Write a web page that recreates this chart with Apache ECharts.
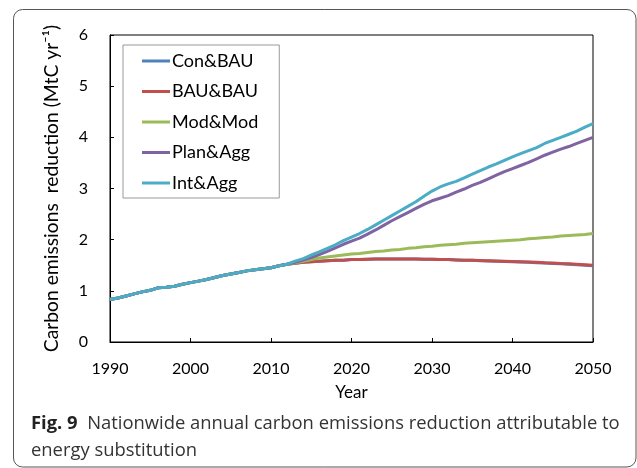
<!DOCTYPE html>
<html>
<head>
<meta charset="utf-8">
<script src="https://cdn.jsdelivr.net/npm/echarts@6/dist/echarts.min.js"></script>
<style>
  html, body { margin: 0; padding: 0; background: #fff; }
  #main { width: 637px; height: 468px; }
</style>
</head>
<body>
<div id="main"></div>
<script>
// years on the x axis
const years = [
  1990, 1991, 1992, 1993, 1994, 1995, 1996, 1997, 1998, 1999,
  2000, 2001, 2002, 2003, 2004, 2005, 2006, 2007, 2008, 2009,
  2010, 2011, 2012, 2013, 2014, 2015, 2016, 2017, 2018, 2019,
  2020, 2021, 2022, 2023, 2024, 2025, 2026, 2027, 2028, 2029,
  2030, 2031, 2032, 2033, 2034, 2035, 2036, 2037, 2038, 2039,
  2040, 2041, 2042, 2043, 2044, 2045, 2046, 2047, 2048, 2049, 2050
];

// shared history 1990-2011 (MtC/yr)
const history = [
  0.83, 0.86, 0.90, 0.94, 0.98, 1.01, 1.06, 1.07, 1.09, 1.13,
  1.16, 1.19, 1.22, 1.26, 1.30, 1.33, 1.36, 1.39, 1.41, 1.43,
  1.45, 1.49
];

// scenarios 2012-2050
const conBau = [
  1.52, 1.54, 1.56, 1.57, 1.58, 1.59, 1.60, 1.60, 1.61, 1.61,
  1.615, 1.62, 1.62, 1.62, 1.62, 1.62, 1.62, 1.615, 1.615, 1.61,
  1.61, 1.605, 1.60, 1.60, 1.59, 1.585, 1.58, 1.575, 1.57, 1.565,
  1.56, 1.55, 1.545, 1.535, 1.53, 1.52, 1.51, 1.50, 1.49
];
const bauBau = [
  1.52, 1.54, 1.56, 1.57, 1.58, 1.59, 1.60, 1.60, 1.61, 1.61,
  1.615, 1.62, 1.62, 1.62, 1.62, 1.62, 1.62, 1.615, 1.615, 1.61,
  1.61, 1.605, 1.60, 1.60, 1.595, 1.59, 1.585, 1.58, 1.575, 1.57,
  1.565, 1.56, 1.55, 1.545, 1.535, 1.53, 1.52, 1.51, 1.50
];
const modMod = [
  1.52, 1.55, 1.58, 1.61, 1.64, 1.66, 1.68, 1.70, 1.72, 1.73,
  1.75, 1.77, 1.78, 1.80, 1.81, 1.83, 1.84, 1.86, 1.87, 1.89,
  1.90, 1.91, 1.93, 1.94, 1.95, 1.96, 1.97, 1.98, 1.99, 2.00,
  2.02, 2.03, 2.04, 2.05, 2.07, 2.08, 2.09, 2.10, 2.12
];
const planAgg = [
  1.52, 1.56, 1.60, 1.65, 1.71, 1.77, 1.84, 1.91, 1.97, 2.03,
  2.11, 2.19, 2.28, 2.37, 2.45, 2.53, 2.61, 2.69, 2.76, 2.81,
  2.86, 2.93, 2.99, 3.06, 3.12, 3.19, 3.26, 3.33, 3.39, 3.45,
  3.51, 3.58, 3.65, 3.71, 3.77, 3.82, 3.88, 3.94, 4.00
];
const intAgg = [
  1.52, 1.58, 1.63, 1.70, 1.76, 1.83, 1.90, 1.98, 2.05, 2.12,
  2.20, 2.29, 2.38, 2.47, 2.56, 2.65, 2.74, 2.85, 2.95, 3.03,
  3.09, 3.14, 3.21, 3.28, 3.35, 3.42, 3.48, 3.55, 3.62, 3.68,
  3.74, 3.80, 3.88, 3.94, 4.00, 4.06, 4.12, 4.20, 4.27
];

const names = ['Con&BAU', 'BAU&BAU', 'Mod&Mod', 'Plan&Agg', 'Int&Agg'];
const colors = ['#4F81BD', '#C0504D', '#9BBB59', '#8064A2', '#4BACC6'];
const scenarios = [conBau, bauBau, modMod, planAgg, intAgg];

const font = 'Lato, "Liberation Sans", sans-serif';
const capFont = '"Open Sans", "Noto Sans", sans-serif';

const chart = echarts.init(document.getElementById('main'));

const seriesList = scenarios.map((s, i) => ({
  name: names[i],
  type: 'line',
  data: history.concat(s),
  symbol: 'none',
  lineStyle: { width: 3, color: colors[i] },
  itemStyle: { color: colors[i] }
}));

chart.setOption({
  animation: false,
  grid: {
    left: 110, right: 44, top: 35, bottom: 126,
    show: true, borderColor: '#000', borderWidth: 1
  },
  legend: {
    orient: 'vertical',
    left: 123, top: 45,
    data: names,
    icon: 'rect',
    itemWidth: 28, itemHeight: 3,
    itemGap: 12.5,
    padding: [7, 21, 6, 19],
    borderColor: '#999', borderWidth: 1,
    textStyle: { fontFamily: font, fontSize: 18, color: '#000', padding: [0, 0, 0, -3] }
  },
  xAxis: {
    type: 'category',
    data: years,
    boundaryGap: false,
    name: 'Year',
    nameLocation: 'middle',
    nameGap: 42,
    nameTextStyle: { fontFamily: font, fontSize: 17, color: '#000' },
    axisLine: { lineStyle: { color: '#000', width: 1 } },
    axisTick: { inside: true, length: 4, interval: 9, lineStyle: { color: '#000' } },
    axisLabel: { interval: 9, margin: 19, fontFamily: font, fontSize: 16, color: '#000' },
    splitLine: { show: false }
  },
  yAxis: {
    type: 'value',
    min: 0, max: 6, interval: 1,
    name: 'Carbon emissions  reduction (MtC yr\u207B\u00B9)',
    nameLocation: 'middle',
    nameRotate: 90,
    nameGap: 49,
    nameTextStyle: { fontFamily: font, fontSize: 19.3, color: '#000' },
    axisLine: { show: true, lineStyle: { color: '#000', width: 1 } },
    axisTick: { show: true, inside: true, length: 4, lineStyle: { color: '#000' } },
    axisLabel: { margin: 22, fontFamily: font, fontSize: 16, color: '#000' },
    splitLine: { show: false }
  },
  graphic: [
    {
      type: 'rect',
      z: -1,
      shape: { x: 13.5, y: 9.5, width: 622.5, height: 457.5, r: 9 },
      style: { fill: 'none', stroke: '#555', lineWidth: 1 }
    },
    {
      type: 'text',
      left: 31, top: 415,
      style: {
        text: '{b|Fig. 9}{n|  Nationwide annual carbon emissions reduction attributable to}\n{n|energy substitution}',
        rich: {
          b: { fontFamily: capFont, fontSize: 18.4, fontWeight: 'bold', fill: '#222', lineHeight: 27 },
          n: { fontFamily: capFont, fontSize: 18.4, fill: '#333', lineHeight: 27 }
        }
      }
    }
  ],
  series: seriesList
});
</script>
</body>
</html>
